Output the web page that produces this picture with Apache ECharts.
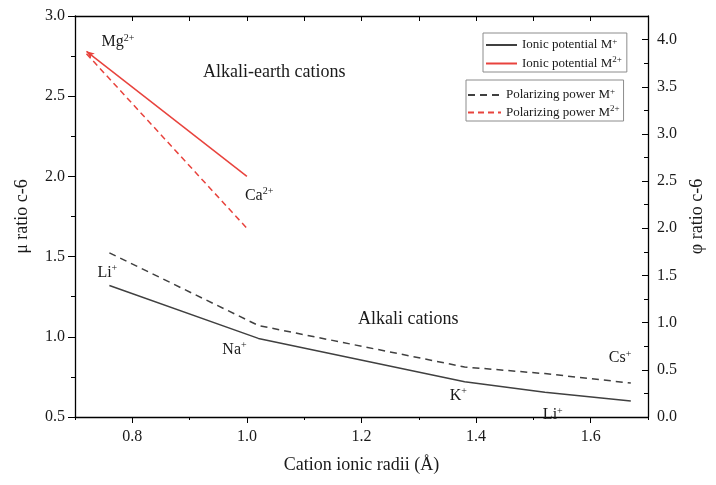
<!DOCTYPE html>
<html>
<head>
<meta charset="utf-8">
<script src="https://cdn.jsdelivr.net/npm/echarts@6/dist/echarts.min.js"></script>
<style>
html,body{margin:0;padding:0;background:#fff;}
#main{width:716px;height:485px;}
</style>
</head>
<body>
<div id="main"></div>
<script>
// data
var radiiM1 = [0.76, 1.02, 1.38, 1.52, 1.67];
var ionicM1 = [1.32, 0.99, 0.72, 0.655, 0.60];
var polarM1 = [1.74, 0.97, 0.53, 0.46, 0.36];
var radiiM2 = [0.72, 1.00];
var ionicM2 = [2.78, 2.00];
var polarM2 = [3.85, 2.00];
var cationsM1 = [['Li', '+'], ['Na', '+'], ['K', '+'], ['Li', '+'], ['Cs', '+']];
var cationsM2 = [['Mg', '2+'], ['Ca', '2+']];
var xMajor = [0.8, 1.0, 1.2, 1.4, 1.6];
var xMinor = [0.7, 0.9, 1.1, 1.3, 1.5, 1.7];

var FONT = 'Liberation Serif';
var DARK = '#404040', RED = '#e8433d';

function pairs(xs, ys) {
	return xs.map(function (x, i) { return [x, ys[i]]; });
}
var supRich = {
	t: { fontFamily: FONT, fontSize: 13, color: '#1a1a1a', lineHeight: 16 },
	s: { fontFamily: FONT, fontSize: 9, color: '#1a1a1a', lineHeight: 9, verticalAlign: 'top' }
};
function legendFmt(name) {
	var k = name.lastIndexOf('M');
	return '{t|' + name.slice(0, k + 1) + '}{s|' + name.slice(k + 1) + '}';
}

var mycharts = echarts.init(document.getElementById('main'));

// arrow head on the Mg end of the red solid line
var redSolid = pairs(radiiM2, ionicM2).map(function (p, i) {
	return i === 0 ? { value: p, symbol: 'arrow', symbolSize: [5, 8], symbolRotate: 52 } : { value: p };
});

var option = {
	animation: false,
	backgroundColor: '#fff',
	grid: { left: 75, right: 68, top: 16, bottom: 68 },
	legend: [
		{
			data: ['Ionic potential M+', 'Ionic potential M2+'],
			orient: 'vertical', left: 483, top: 33,
			itemWidth: 31, itemHeight: 10, itemGap: 4,
			padding: [4, 5, 2, 2],
			borderColor: '#8c8c8c', borderWidth: 1,
			itemStyle: { opacity: 0 },
			formatter: legendFmt,
			textStyle: { rich: supRich }
		},
		{
			data: ['Polarizing power M+', 'Polarizing power M2+'],
			orient: 'vertical', left: 466, top: 80,
			itemWidth: 33, itemHeight: 10, itemGap: 3,
			padding: [7, 4, 2, 1],
			borderColor: '#8c8c8c', borderWidth: 1,
			itemStyle: { opacity: 0 },
			formatter: legendFmt,
			textStyle: { rich: supRich }
		}
	],
	xAxis: [
		{
			type: 'value', position: 'bottom', min: 0.7, max: 1.7,
			splitLine: { show: false },
			axisLine: { lineStyle: { color: '#000', width: 1.3 } },
			axisTick: { customValues: xMinor, length: 3, lineStyle: { color: '#000' } },
			axisLabel: {
				customValues: xMajor, margin: 12,
				fontFamily: FONT, fontSize: 16, color: '#1a1a1a',
				formatter: function (v) { return v.toFixed(1); }
			},
			name: 'Cation ionic radii (Å)', nameLocation: 'middle', nameGap: 39,
			nameTextStyle: { fontFamily: FONT, fontSize: 18, color: '#1a1a1a' }
		},
		{
			type: 'value', position: 'top', min: 0.7, max: 1.7, interval: 0.1,
			splitLine: { show: false },
			axisLine: { lineStyle: { color: '#000', width: 1.3 } },
			axisTick: { inside: true, length: 5, lineStyle: { color: '#000' } },
			axisLabel: { show: false }
		},
		{
			type: 'value', position: 'bottom', min: 0.7, max: 1.7,
			splitLine: { show: false },
			axisLine: { show: false },
			axisTick: { customValues: xMajor, length: 6, lineStyle: { color: '#000' } },
			axisLabel: { show: false }
		}
	],
	yAxis: [
		{
			type: 'value', position: 'left', min: 0.5, max: 3.0, interval: 0.5,
			splitLine: { show: false },
			axisLine: { show: true, lineStyle: { color: '#000', width: 1.3 } },
			axisTick: { show: true, length: 7, lineStyle: { color: '#000' } },
			minorTick: { show: true, splitNumber: 2, length: 4, lineStyle: { color: '#000' } },
			axisLabel: {
				margin: 10, fontFamily: FONT, fontSize: 16, color: '#1a1a1a',
				formatter: function (v) { return v.toFixed(1); }
			},
			name: 'μ ratio c-6', nameLocation: 'middle', nameGap: 44,
			nameTextStyle: { fontFamily: FONT, fontSize: 18, color: '#1a1a1a' }
		},
		{
			type: 'value', position: 'right', min: 0, max: 4.25, interval: 0.5,
			splitLine: { show: false },
			axisLine: { show: true, lineStyle: { color: '#000', width: 1.3 } },
			axisTick: { show: true, inside: true, length: 6, lineStyle: { color: '#000' } },
			minorTick: { show: true, splitNumber: 2, length: 4, lineStyle: { color: '#000' } },
			axisLabel: {
				margin: 9, showMaxLabel: false, fontFamily: FONT, fontSize: 16, color: '#1a1a1a',
				formatter: function (v) { return v.toFixed(1); }
			},
			name: 'φ ratio c-6', nameLocation: 'middle', nameGap: 40,
			nameTextStyle: { fontFamily: FONT, fontSize: 18, color: '#1a1a1a' }
		}
	],
	series: [
		{
			name: 'Ionic potential M+', type: 'line', yAxisIndex: 0,
			symbol: 'none', color: DARK,
			lineStyle: { color: DARK, width: 1.5 },
			data: pairs(radiiM1, ionicM1)
		},
		{
			name: 'Ionic potential M2+', type: 'line', yAxisIndex: 0,
			symbol: 'none', color: RED,
			itemStyle: { color: RED },
			lineStyle: { color: RED, width: 1.5 },
			data: redSolid
		},
		{
			name: 'Polarizing power M+', type: 'line', yAxisIndex: 1,
			symbol: 'none', color: DARK,
			lineStyle: { color: DARK, width: 1.5, type: [7, 5] },
			data: pairs(radiiM1, polarM1)
		},
		{
			name: 'Polarizing power M2+', type: 'line', yAxisIndex: 1,
			symbol: 'none', color: RED,
			lineStyle: { color: RED, width: 1.5, type: [6, 4] },
			data: pairs(radiiM2, polarM2)
		}
	]
};
mycharts.setOption(option);

// cation names, placed next to their points (offset in px from the point)
var offM1 = [[-12, -13], [-36, 11], [-15, 14], [-2, 23], [-22, -43]];
var offM2 = [[15, -9], [-2, 19]];
function cationText(name, p, off) {
	return {
		type: 'text', left: p[0] + off[0], top: p[1] + off[1] - 9, z: 10,
		style: {
			text: '{b|' + name[0] + '}{s|' + name[1] + '}',
			rich: {
				b: { fontFamily: FONT, fontSize: 16, lineHeight: 18, fill: '#1a1a1a' },
				s: { fontFamily: FONT, fontSize: 10, lineHeight: 10, fill: '#1a1a1a', verticalAlign: 'top' }
			}
		}
	};
}
var texts = [];
radiiM1.forEach(function (x, i) {
	var p = mycharts.convertToPixel({ xAxisIndex: 0, yAxisIndex: 0 }, [x, ionicM1[i]]);
	texts.push(cationText(cationsM1[i], p, offM1[i]));
});
radiiM2.forEach(function (x, i) {
	var p = mycharts.convertToPixel({ xAxisIndex: 0, yAxisIndex: 0 }, [x, ionicM2[i]]);
	texts.push(cationText(cationsM2[i], p, offM2[i]));
});
texts.push({
	type: 'text', left: 203, top: 63,
	style: { text: 'Alkali-earth cations', fontFamily: FONT, fontSize: 18, fill: '#1a1a1a' }
});
texts.push({
	type: 'text', left: 358, top: 310,
	style: { text: 'Alkali cations', fontFamily: FONT, fontSize: 18, fill: '#1a1a1a' }
});
mycharts.setOption({ graphic: texts });
</script>
</body>
</html>
